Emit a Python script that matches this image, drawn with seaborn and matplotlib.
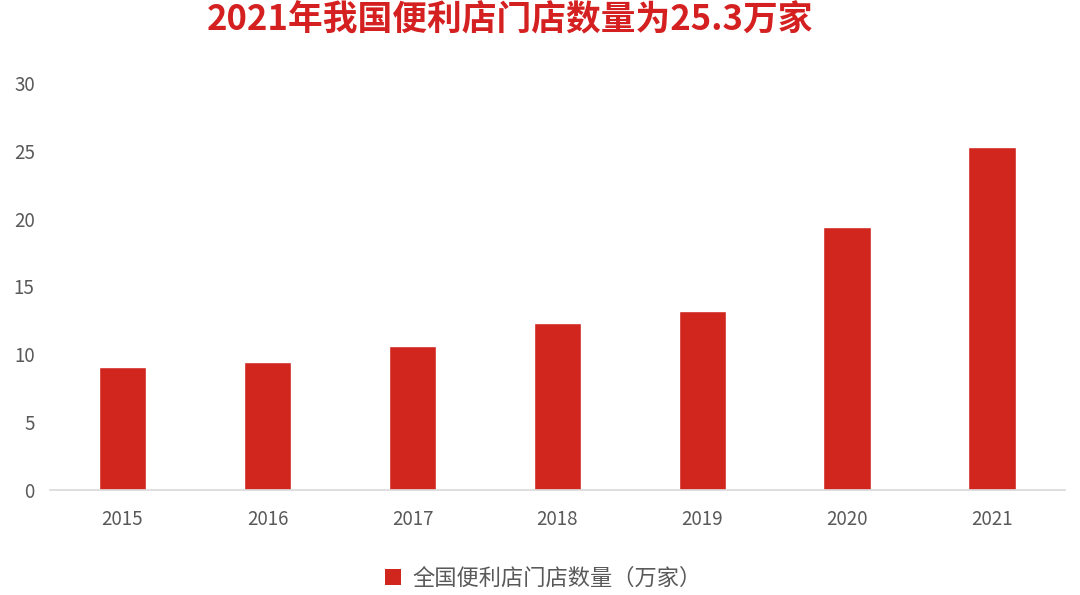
import matplotlib
matplotlib.use("Agg")
import matplotlib.pyplot as plt
import seaborn as sns
import pandas as pd
from matplotlib.patches import Patch

# Convenience store counts in China (10k stores)
years = ["2015", "2016", "2017", "2018", "2019", "2020", "2021"]
stores = [9.1, 9.4, 10.6, 12.3, 13.2, 19.4, 25.3]
yticks = [0, 5, 10, 15, 20, 25, 30]

title = "2021年我国便利店门店数量为25.3万家"
series_name = "全国便利店门店数量（万家）"

sns.set_theme(style="white")
plt.rcParams["font.family"] = ["Noto Sans CJK SC", "DejaVu Sans"]

bar_color = "#d0261e"
tick_color = "#595959"

df = pd.DataFrame({"year": years, "stores": stores})

fig = plt.figure(figsize=(10.8, 5.95), dpi=100)
ax = fig.add_axes([0.0463, 0.1765, 0.9397, 0.684])

sns.barplot(data=df, x="year", y="stores", color=bar_color, saturation=1,
            width=0.33, ax=ax)

ax.set_xlim(-0.5, len(years) - 0.5)
ax.set_ylim(0, 30)
ax.set_yticks(yticks)
ax.set_yticklabels([str(t) for t in yticks])
ax.set_xlabel("")
ax.set_ylabel("")

for side in ["top", "right", "left"]:
    ax.spines[side].set_visible(False)
ax.spines["bottom"].set_color("#d9d9d9")
ax.spines["bottom"].set_linewidth(1.2)

ax.tick_params(axis="x", colors=tick_color, labelsize=13.5, length=0, pad=14)
ax.tick_params(axis="y", colors=tick_color, labelsize=13.5, length=0, pad=11)

fig.text(0.472, 0.966, title, ha="center", va="center", color="#d42020",
         fontsize=25, fontweight="heavy")

handles = [Patch(facecolor=bar_color, edgecolor="none", label=series_name)]
fig.legend(handles=handles, loc="center", bbox_to_anchor=(0.503, 0.028),
           frameon=False, fontsize=16, handlelength=0.7, handleheight=0.7,
           handletextpad=0.5, labelcolor=tick_color)

fig.savefig("out.png", dpi=100)
